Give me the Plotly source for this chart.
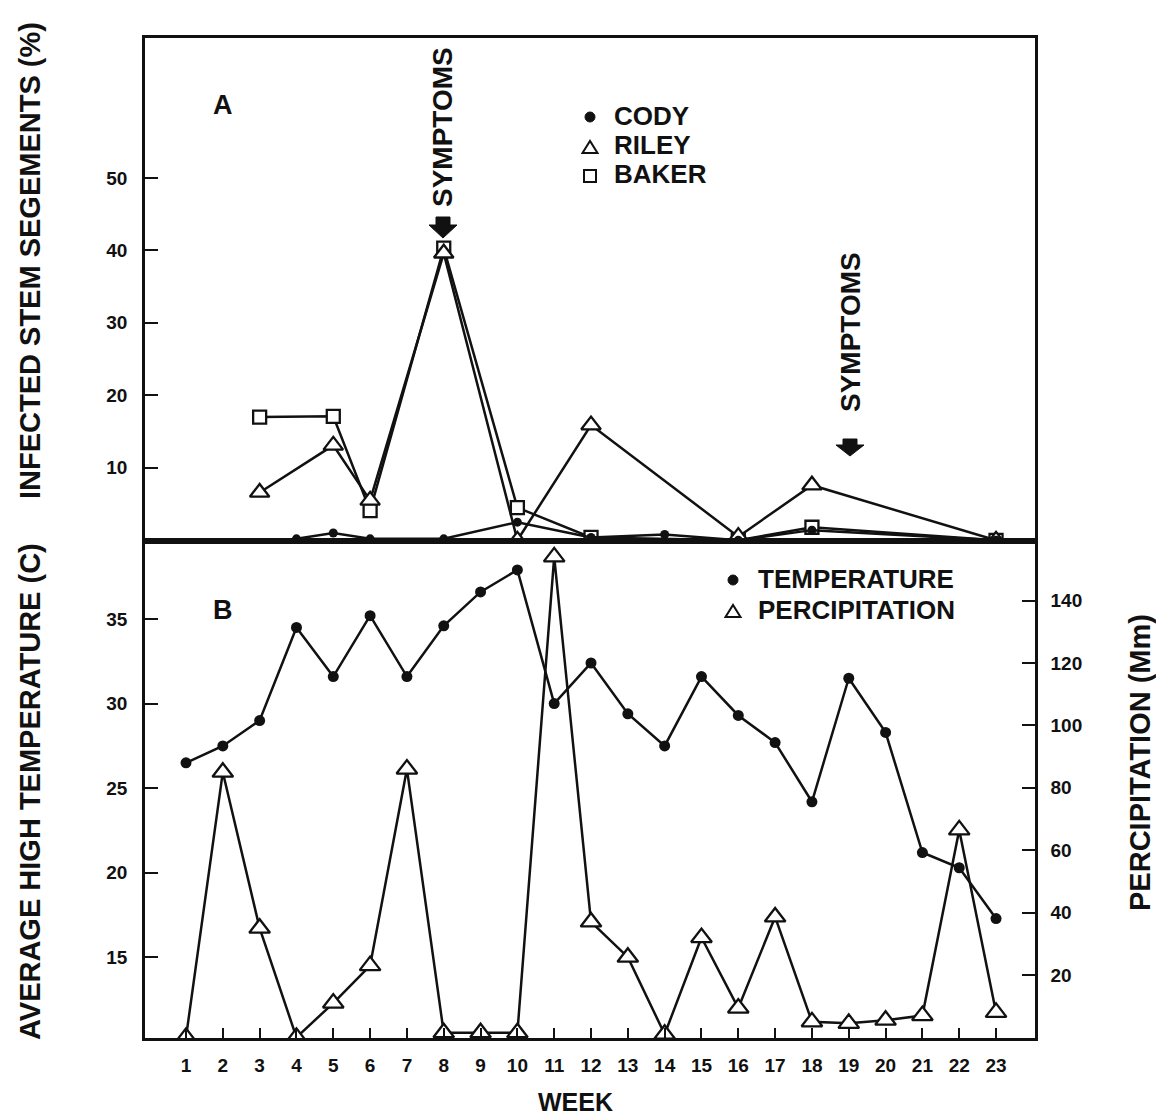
import plotly.graph_objects as go

# ---------------- data ----------------
weeks = list(range(1, 24))
week_labels = [str(w) for w in weeks]

cody_weeks = [4, 5, 6, 8, 10, 12, 14, 16, 18, 23]
cody_vals = [0.2, 1.0, 0.2, 0.2, 2.5, 0.4, 0.8, 0.0, 1.4, 0.0]

riley_weeks = [3, 5, 6, 8, 10, 12, 16, 18, 23]
riley_vals = [6.6, 13.1, 5.5, 39.6, 0.0, 15.9, 0.5, 7.6, 0.0]

baker_weeks = [3, 5, 6, 8, 10, 12, 16, 18, 23]
baker_vals = [17.0, 17.1, 4.1, 40.3, 4.5, 0.4, 0.0, 1.8, 0.0]

temperature = [26.5, 27.5, 29.0, 34.5, 31.6, 35.2, 31.6, 34.6, 36.6, 37.9, 30.0, 32.4,
               29.4, 27.5, 31.6, 29.3, 27.7, 24.2, 31.5, 28.3, 21.2, 20.3, 17.3]
precipitation = [0, 85, 35, 0, 11, 23, 86, 1.5, 1.5, 1.5, 154, 37, 25.7, 1, 32, 9.4,
                 38.6, 5, 4.5, 5.5, 7, 66.5, 8]

top_ticks = [10, 20, 30, 40, 50]
temp_ticks = [15, 20, 25, 30, 35]
precip_ticks = [20, 40, 60, 80, 100, 120, 140]

# ---------------- layout helpers ----------------
W, H = 1156, 1117
L, R, T, B = 145, 1035, 38, 1038
MID = 541
def px(x):
    return (x - L) / (R - L)
def py(y):
    return (B - y) / (B - T)

FONT = "Liberation Sans, Arial, Helvetica, sans-serif"
BLACK = "#111111"

fig = go.Figure()

line_style = dict(color=BLACK, width=2.5)

# top panel
fig.add_trace(go.Scatter(x=baker_weeks, y=baker_vals, mode="lines+markers", name="BAKER",
                         line=line_style, xaxis="x", yaxis="y",
                         marker=dict(symbol="square", size=13, color="white",
                                     line=dict(color=BLACK, width=2.3))))
fig.add_trace(go.Scatter(x=riley_weeks, y=riley_vals, mode="lines+markers", name="RILEY",
                         line=line_style, xaxis="x", yaxis="y",
                         marker=dict(symbol="triangle-up", size=17, color="white",
                                     line=dict(color=BLACK, width=2.3))))
fig.add_trace(go.Scatter(x=cody_weeks, y=cody_vals, mode="lines+markers", name="CODY",
                         line=line_style, xaxis="x", yaxis="y",
                         marker=dict(symbol="circle", size=9, color=BLACK)))

# bottom panel
fig.add_trace(go.Scatter(x=weeks, y=temperature, mode="lines+markers", name="TEMPERATURE",
                         line=line_style, xaxis="x2", yaxis="y2",
                         marker=dict(symbol="circle", size=11, color=BLACK)))
fig.add_trace(go.Scatter(x=weeks, y=precipitation, mode="lines+markers", name="PERCIPITATION",
                         line=line_style, xaxis="x2", yaxis="y3",
                         marker=dict(symbol="triangle-up", size=18, color="white",
                                     line=dict(color=BLACK, width=2.3))))

xr = [1 - (186 - L) / 36.82, 1 + (R - 186) / 36.82]
tick_font = dict(family=FONT, size=19, color=BLACK, weight="bold")
ax_common = dict(showgrid=False, zeroline=False, showline=True, linecolor=BLACK,
                 linewidth=2.5, ticks="inside", tickcolor=BLACK, tickwidth=2,
                 tickfont=tick_font)

top_dom = [py(MID), 1]
bot_dom = [0, py(MID)]

fig.update_layout(
    width=W, height=H,
    margin=dict(l=L, r=W - R, t=T, b=H - B),
    paper_bgcolor="white", plot_bgcolor="white",
    showlegend=False,
    xaxis=dict(domain=[0, 1], range=xr, anchor="y", mirror=True,
               showgrid=False, zeroline=False, showline=True, linecolor=BLACK,
               linewidth=3, showticklabels=False, ticks=""),
    yaxis=dict(domain=top_dom, range=[-0.1, 69.3], anchor="x", mirror=True,
               tickvals=top_ticks, ticklen=13, ticklabelstandoff=11, **ax_common),
    xaxis2=dict(domain=[0, 1], range=xr, anchor="y2", mirror=True,
                tickvals=weeks, ticktext=week_labels, ticklen=10,
                ticklabelstandoff=8, **ax_common),
    yaxis2=dict(domain=bot_dom, range=[10.24, 39.61], anchor="x2",
                tickvals=temp_ticks, ticklen=13, ticklabelstandoff=11, **ax_common),
    yaxis3=dict(domain=bot_dom, range=[-0.2, 159.1], anchor="x2", overlaying="y2",
                side="right", tickvals=precip_ticks, ticklen=13,
                ticklabelstandoff=9, **ax_common),
)

def text(x, y, s, size, angle=0, xanchor="center"):
    fig.add_annotation(x=px(x), y=py(y), xref="paper", yref="paper", text=s,
                       showarrow=False, textangle=angle, xanchor=xanchor,
                       yanchor="middle",
                       font=dict(family=FONT, size=size, color=BLACK, weight="bold"))

# axis titles
text(30, 261, "INFECTED STEM SEGEMENTS (%)", 29, -90)
text(30, 792, "AVERAGE HIGH TEMPERATURE (C)", 29, -90)
text(1140, 763, "PERCIPITATION (Mm)", 29, -90)
text(575, 1102, "WEEK", 25)

# panel letters
text(223, 105, "A", 27)
text(223, 610, "B", 27)

# symptoms labels
text(443, 127, "SYMPTOMS", 28, -90)
text(850, 332, "SYMPTOMS", 28, -90)

def arrow(cx, top, base, tip, sw=7, hw=14):
    pts = [(cx - sw, top), (cx + sw, top), (cx + sw, base), (cx + hw, base),
           (cx, tip), (cx - hw, base), (cx - sw, base)]
    path = "M " + " L ".join(f"{px(a):.5f},{py(b):.5f}" for a, b in pts) + " Z"
    fig.add_shape(type="path", path=path, xref="paper", yref="paper",
                  fillcolor=BLACK, line=dict(color=BLACK, width=1))

arrow(443, 217, 225, 238)
arrow(850, 439, 445, 456)

# legends (top)
text(612, 116, "CODY", 26, xanchor="left")
text(612, 145, "RILEY", 26, xanchor="left")
text(612, 174, "BAKER", 26, xanchor="left")
# legends (bottom)
text(756, 579, "TEMPERATURE", 26, xanchor="left")
text(756, 610, "PERCIPITATION", 26, xanchor="left")

def circle(cx, cy, r):
    fig.add_shape(type="circle", xref="paper", yref="paper",
                  x0=px(cx - r), x1=px(cx + r), y0=py(cy + r), y1=py(cy - r),
                  fillcolor=BLACK, line=dict(color=BLACK, width=1))

def tri(cx, cy, w, h):
    pts = [(cx - w / 2, cy + h / 2), (cx + w / 2, cy + h / 2), (cx, cy - h / 2)]
    path = "M " + " L ".join(f"{px(a):.5f},{py(b):.5f}" for a, b in pts) + " Z"
    fig.add_shape(type="path", path=path, xref="paper", yref="paper",
                  fillcolor="white", line=dict(color=BLACK, width=2))

def square(cx, cy, s):
    fig.add_shape(type="rect", xref="paper", yref="paper",
                  x0=px(cx - s / 2), x1=px(cx + s / 2), y0=py(cy + s / 2), y1=py(cy - s / 2),
                  fillcolor="white", line=dict(color=BLACK, width=2))

circle(590, 117, 5)
tri(590, 147, 15, 12)
square(590, 176, 12)
circle(733, 580, 5)
tri(733, 611, 15, 12)

fig.write_html("out.html")
